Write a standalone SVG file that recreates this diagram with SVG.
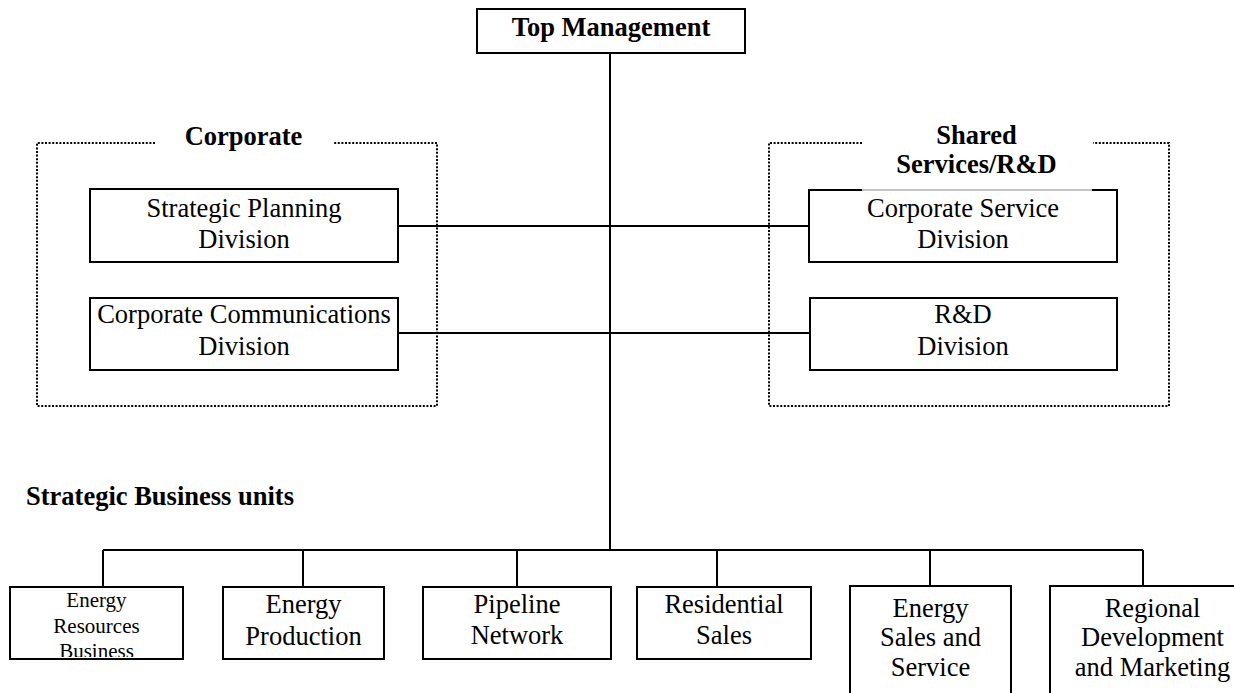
<svg xmlns="http://www.w3.org/2000/svg" width="1234" height="693" viewBox="0 0 1234 693">
<style>
text{font-family:"Liberation Serif","Times New Roman",serif;fill:#000;text-anchor:middle;font-size:26.5px}
.b{font-weight:bold}
.s{font-size:21px}
.box{fill:#fff;stroke:#000;stroke-width:2}
.dot{fill:none;stroke:#000;stroke-width:2;stroke-dasharray:2 1.6}
.ln{fill:none;stroke:#000;stroke-width:2}
</style>
<defs>
<clipPath id="c1"><rect x="11" y="588" width="171" height="69"/></clipPath>
</defs>
<rect width="1234" height="693" fill="#fff"/>
<g id="connectors">
<path class="ln" d="M610,53 V550 M398,226 H809 M398,333 H810 M103,550 H1143 M103,550 V587 M303,550 V587 M517,550 V587 M717,550 V587 M930,550 V586 M1143,550 V586"/>
</g>
<g id="corporate-group">
<path class="dot" d="M155,143 H37 V406 H437 V143 H333"/>
<text class="b" x="243.5" y="145">Corporate</text>
</g>
<g id="shared-group">
<path class="dot" d="M862,143 H769 V406 H1169 V143 H1093"/>
<text class="b" x="976.5" y="144">Shared</text>
<text class="b" x="976.5" y="173">Services/R&amp;D</text>
</g>
<g id="top-management">
<rect class="box" x="477" y="9" width="268" height="44"/>
<text class="b" x="611" y="36">Top Management</text>
</g>
<g id="strategic-planning">
<rect class="box" x="90" y="189" width="308" height="73"/>
<text x="244" y="217">Strategic Planning</text>
<text x="244" y="248">Division</text>
</g>
<g id="corporate-communications">
<rect class="box" x="90" y="298" width="308" height="72"/>
<text x="244" y="323">Corporate Communications</text>
<text x="244" y="355">Division</text>
</g>
<g id="corporate-service">
<path class="box" d="M862,190 H809 V262 H1117 V190 H1092"/>
<line x1="862" y1="190" x2="1092" y2="190" stroke="#888" stroke-width="1"/>
<text x="963" y="217">Corporate Service</text>
<text x="963" y="248">Division</text>
</g>
<g id="rd-division">
<rect class="box" x="810" y="298" width="307" height="72"/>
<text x="963" y="323">R&amp;D</text>
<text x="963" y="355">Division</text>
</g>
<text class="b" x="26" y="505" style="text-anchor:start">Strategic Business units</text>
<g id="energy-resources">
<rect class="box" x="10" y="587" width="173" height="72"/>
<g clip-path="url(#c1)">
<text class="s" x="96.5" y="607">Energy</text>
<text class="s" x="96.5" y="633">Resources</text>
<text class="s" x="96.5" y="658">Business</text>
</g>
</g>
<g id="energy-production">
<rect class="box" x="223" y="587" width="161" height="72"/>
<text x="303.5" y="613">Energy</text>
<text x="303.5" y="645">Production</text>
</g>
<g id="pipeline-network">
<rect class="box" x="423" y="587" width="188" height="72"/>
<text x="517" y="613">Pipeline</text>
<text x="517" y="644">Network</text>
</g>
<g id="residential-sales">
<rect class="box" x="637" y="587" width="174" height="72"/>
<text x="724" y="613">Residential</text>
<text x="724" y="644">Sales</text>
</g>
<g id="energy-sales">
<rect class="box" x="850" y="586" width="161" height="120"/>
<text x="930.5" y="617">Energy</text>
<text x="930.5" y="646">Sales and</text>
<text x="930.5" y="676">Service</text>
</g>
<g id="regional-development">
<rect class="box" x="1050" y="586" width="200" height="120"/>
<text x="1152.5" y="617">Regional</text>
<text x="1152.5" y="646">Development</text>
<text x="1152.5" y="676">and Marketing</text>
</g>
</svg>
